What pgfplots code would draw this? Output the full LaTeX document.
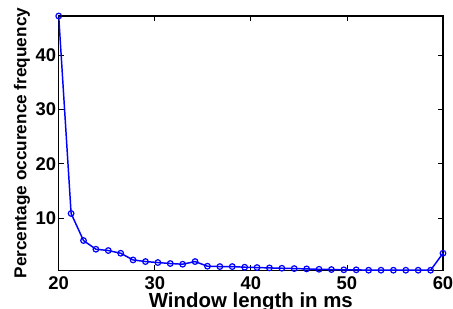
\documentclass[border=0pt]{standalone}
\usepackage{fontspec}
\setmainfont{Liberation Sans}
\usepackage{pgfplots}
\pgfplotsset{compat=1.18}
\begin{document}
\begin{tikzpicture}
\begin{axis}[
  scale only axis,
  width=288pt, height=190.5pt,
  xmin=20, xmax=60, ymin=0.43, ymax=47.2,
  xtick={20,30,40,50,60},
  ytick={10,20,30,40},
  tick align=inside,
  major tick length=4pt,
  tick style={black, line width=0.6pt},
  axis line style={black, line width=0.8pt},
  /pgf/number format/assume math mode=true,
  tick label style={font=\fontsize{13.8}{15}\selectfont\bfseries},
  xticklabel style={yshift=-1.6pt},
  yticklabel style={xshift=1.6pt},
  xlabel={Window length in ms},
  ylabel={Percentage occurence frequency},
  xlabel style={font=\fontsize{15.3}{17}\selectfont\bfseries, at={(axis description cs:0.5,0)}, anchor=base, yshift=-27.8pt},
  ylabel style={font=\fontsize{12.9}{14}\selectfont\bfseries, at={([xshift=-27.6pt]axis description cs:0,0.5)}, anchor=center},
]
\addplot[color=blue, line width=1.1pt, mark=o, mark size=2.1pt, mark options={line width=0.9pt}] coordinates {
(20.000,47.2)
(21.290,10.87)
(22.581,5.89)
(23.871,4.29)
(25.161,4.05)
(26.452,3.55)
(27.742,2.32)
(29.032,2.02)
(30.323,1.84)
(31.613,1.66)
(32.903,1.53)
(34.194,2.02)
(35.484,1.16)
(36.774,1.10)
(38.065,1.10)
(39.355,0.98)
(40.645,0.92)
(41.935,0.85)
(43.226,0.79)
(44.516,0.73)
(45.806,0.67)
(47.097,0.60)
(48.387,0.55)
(49.677,0.50)
(50.968,0.50)
(52.258,0.43)
(53.548,0.43)
(54.839,0.43)
(56.129,0.43)
(57.419,0.43)
(58.710,0.43)
(60.000,3.55)
};
\end{axis}
\pgfresetboundingbox
\path[use as bounding box] ([xshift=-44pt,yshift=-29pt]current axis.south west) rectangle ([xshift=7.5pt,yshift=12pt]current axis.north east);
\end{tikzpicture}
\end{document}
